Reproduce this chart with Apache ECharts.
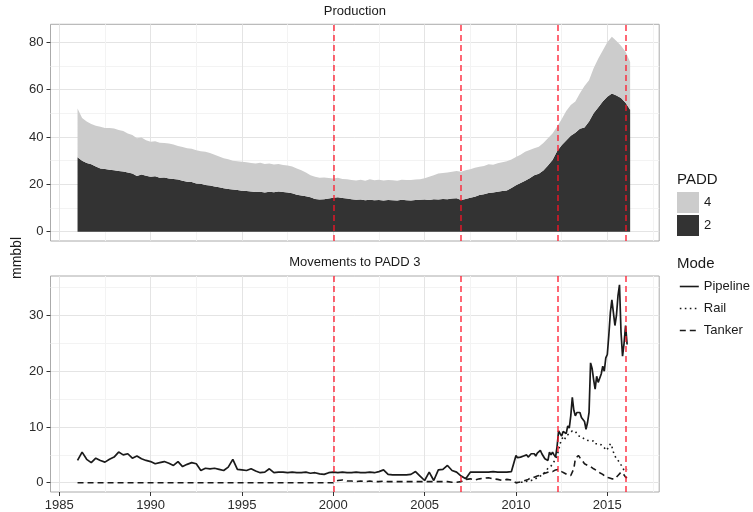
<!DOCTYPE html>
<html><head><meta charset="utf-8">
<script src="https://cdn.jsdelivr.net/npm/echarts@6/dist/echarts.min.js"></script>
<style>html,body{margin:0;padding:0;background:#fff}#c{width:753px;height:512px}</style>
</head><body><div id="c"></div>
<script>
// ---------- DATA ----------
// Production (mmbbl), quarterly from 1986 Q1
const prodStartYear = 1986;
const prodStepYears = 0.25;
const padd2 = [
 31.4,30.0,29.0,28.5, 27.5,26.7,26.5,26.2, 26.0,25.6,25.4,25.0, 24.6,23.5,24.2,23.6,
 23.2,23.4,22.8,22.9, 22.5,22.3,22.0,21.5, 21.1,21.0,20.4,20.2, 19.7,19.5,19.1,18.8,
 18.3,18.0,17.8,17.6, 17.3,17.2,17.0,16.8, 16.9,16.6,16.9,16.7, 17.0,16.8,16.6,16.2,
 15.6,15.3,15.0,14.5, 13.8,13.6,13.7,14.0, 14.3,14.5,14.2,14.0, 13.7,13.5,13.6,13.3,
 13.5,13.3,13.4,13.2, 13.4,13.3,13.2,13.5, 13.3,13.2,13.4,13.5, 13.6,13.4,13.7,13.6,
 13.8,13.7,14.0,14.1, 13.4,13.8,14.3,14.8, 15.5,15.8,16.3,16.6, 16.9,17.2,17.4,18.5,
 19.6,20.6,21.5,22.6, 23.8,24.5,25.8,28.0, 30.3,34.0,36.5,38.5, 40.5,41.8,43.5,44.0,
 46.5,50.0,52.5,55.0, 57.0,58.4,57.5,56.5, 54.5,51.5
];
const padd4 = [
 20.6,18.0,17.5,17.0, 17.3,17.6,17.3,17.6, 17.6,17.4,17.1,16.5, 16.2,16.0,15.6,15.0,
 14.8,14.8,14.8,14.6, 14.8,14.5,14.2,14.3, 14.1,14.0,14.0,13.8, 14.1,13.7,13.4,13.0,
 12.7,12.6,12.2,12.2, 12.2,12.1,12.0,12.0, 12.2,12.0,11.9,11.7, 11.6,11.4,11.4,11.3,
 11.1,10.7,10.0,9.3, 9.4,9.2,9.2,8.7, 8.2,8.3,8.1,8.1, 8.1,8.1,8.3,8.2,
 8.6,8.4,8.5,8.4, 8.4,8.4,8.3,8.4, 8.5,8.6,8.6,8.7, 9.0,9.8,10.1,11.0,
 11.0,11.3,11.3,11.5, 11.9,12.2,12.1,12.2, 11.9,12.0,12.2,11.7, 12.0,12.1,12.4,12.0,
 12.0,11.9,12.3,11.9, 11.4,11.4,11.7,11.5, 11.2,10.3,11.0,12.5, 13.0,13.2,15.0,17.5,
 17.5,19.0,20.5,21.5, 23.0,23.9,23.0,22.0, 21.5,20.2
];

// Movements to PADD 3 (mmbbl): quarterly 1986-2009, then monthly 2010-01 .. 2016-02
const moveQuarterStart = 1986, moveQuarterCount = 96;
const moveMonthStart = 2010;
const pipeline = [
 4.0,5.5,4.2,3.6, 4.4,4.0,3.7,4.2, 4.6,5.5,5.0,5.2, 4.4,4.8,4.3,4.0,
 3.8,3.4,3.6,3.8, 3.5,3.1,3.8,2.9, 3.3,3.6,3.4,2.2, 2.6,2.5,2.6,2.4,
 2.2,2.8,4.2,2.4, 2.3,2.2,2.5,2.1, 1.8,1.9,2.5,1.8, 1.9,1.9,1.8,1.9,
 1.8,1.8,1.9,1.7, 1.8,1.6,1.5,1.8, 1.9,1.8,1.9,1.8, 1.8,1.9,1.8,1.8,
 1.9,1.8,2.0,2.3, 1.5,1.4,1.4,1.4, 1.4,1.5,2.0,1.2, 0.4,1.9,0.4,2.3,
 2.4,3.1,2.2,1.9, 1.2,0.7,1.9,1.9, 1.9,1.9,1.9,2.0, 1.9,1.9,1.9,2.0,
 4.9,4.5,4.3,4.6,4.4,4.8,4.7,5.0,4.6,4.9,5.2,5.0,
 5.2,4.8,5.3,5.5,5.8,5.2,4.9,4.3,4.6,4.0,5.5,5.0,
 5.5,5.0,4.6,6.5,9.3,8.8,8.4,9.2,9.0,8.8,10.2,9.8,
 12.0,15.3,13.0,12.0,12.6,12.4,12.6,11.7,12.0,11.0,9.6,10.8,
 12.6,21.5,20.5,18.5,16.8,19.1,18.0,18.2,19.5,20.9,20.0,22.4,
 23.0,26.5,30.5,32.8,30.5,28.2,30.0,33.5,35.5,27.0,22.7,25.0,
 28.2,24.8
];
const tanker = [
 0,0,0,0, 0,0,0,0, 0,0,0,0, 0,0,0,0, 0,0,0,0, 0,0,0,0, 0,0,0,0,
 0,0,0,0, 0,0,0,0, 0,0,0,0, 0,0,0,0, 0,0,0,0, 0,0,0,0, 0,0,0,0,
 0.0,0.4,0.5,0.3, 0.3,0.2,0.3,0.2, 0.3,0.2,0.2,0.3, 0.2,0.2,0.2,0.2,
 0.2,0.2,0.2,0.2, 0.2,0.2,0.2,0.2, 0.2,0.2,0.1,0.1, 0.2,0.6,0.7,0.5,
 0.7,0.8,0.9,0.7, 0.6,0.4,0.6,0.5,
 0.0,0.0,0.1,0.1,0.2,0.3,0.4,0.5,0.6,0.7,0.9,1.0,
 1.0,1.1,1.2,1.3,1.4,1.5,1.6,1.7,1.8,1.9,2.0,2.0,
 2.0,2.1,2.3,2.5,2.4,2.2,2.0,1.9,1.7,1.5,1.4,1.3,
 1.3,1.5,2.5,4.3,4.6,4.9,4.5,4.3,3.8,3.4,3.2,3.1,
 3.1,2.9,2.7,2.5,2.4,2.2,2.0,1.8,1.6,1.5,1.2,1.0,
 1.0,0.9,0.8,0.7,0.7,0.7,0.9,1.3,1.6,1.9,1.8,1.4,
 1.0,0.9
];
// Rail: monthly from 2010-01
const rail = [
 0.0,0.0,0.1,0.1,0.1,0.2,0.2,0.2,0.3,0.3,0.4,0.5,
 0.6,0.7,0.9,1.0,1.2,1.4,1.6,1.9,2.2,2.6,2.8,3.0,
 3.4,3.7,4.2,5.0,5.8,7.0,7.8,8.2,7.8,8.4,8.2,8.8,
 9.0,9.3,9.6,9.2,8.8,8.4,8.7,8.3,8.0,7.8,8.1,7.6,
 7.8,7.5,7.2,7.5,7.0,6.8,7.0,7.3,6.8,7.0,6.3,5.8,
 5.8,6.3,7.0,6.5,5.5,4.8,4.3,4.0,3.7,3.2,2.8,2.2,
 2.1,2.4
];

const eventYears = [2000, 2007, 2012.3, 2016];
const xTickLabels = [1985, 1990, 1995, 2000, 2005, 2010, 2015];
const xMinorTicks = [1987.5, 1992.5, 1997.5, 2002.5, 2007.5, 2012.5, 2017.5];
const prodTicks = [0, 20, 40, 60, 80];
const prodMinorTicks = [10, 30, 50, 70];
const moveTicks = [0, 10, 20, 30];
const moveMinorTicks = [5, 15, 25, 35];

// ---------- BUILD ----------
const FONT = '"Liberation Sans", Arial, Helvetica, sans-serif';
const prodDates = padd2.map((_, i) => prodStartYear + i * prodStepYears);
const moveDates = pipeline.map((_, i) => i < moveQuarterCount
  ? moveQuarterStart + i * 0.25
  : moveMonthStart + (i - moveQuarterCount) / 12);
const railDates = rail.map((_, i) => moveMonthStart + i / 12);
const pairs = (xs, ys) => ys.map((y, i) => [xs[i], y]);
// value first so the library stacks the value dimension (not the year)
const vpairs = (xs, ys) => ys.map((y, i) => [y, xs[i]]);

const X_MIN = 1984.52, X_MAX = 2017.84;
const gridL = 50.5, gridW = 608.7;

function xAx(grid, major, labels) {
  return {
    type: 'value', gridIndex: grid, min: X_MIN, max: X_MAX,
    axisLine: { show: false, onZero: false },
    axisTick: { show: major && labels, length: 4, lineStyle: { color: '#333', width: 1 },
                customValues: major ? xTickLabels : xMinorTicks },
    axisLabel: { show: major && labels, customValues: major ? xTickLabels : xMinorTicks,
                 margin: 7, fontSize: 13, color: '#2b2b2b', fontFamily: FONT,
                 formatter: v => String(Math.round(v)) },
    splitLine: { show: true, lineStyle: { color: major ? '#e4e4e4' : '#f3f3f3', width: 1 } }
  };
}
function yAx(grid, min, max, ticks, major) {
  return {
    type: 'value', gridIndex: grid, min: min, max: max,
    axisLine: { show: false, onZero: false },
    axisTick: { show: major, length: 4, lineStyle: { color: '#333', width: 1 }, customValues: ticks },
    axisLabel: { show: major, customValues: ticks, margin: 7, fontSize: 13, color: '#2b2b2b', fontFamily: FONT },
    splitLine: { show: true, lineStyle: { color: major ? '#e4e4e4' : '#f3f3f3', width: 1 } }
  };
}

function vline() {
  return {
    silent: true, symbol: ['none', 'none'], label: { show: false },
    lineStyle: { color: 'rgba(255,20,40,0.8)', type: [6, 4], width: 1.6 },
    data: eventYears.map(x => ({ xAxis: x }))
  };
}

const lineCol = '#1a1a1a';
const option = {
  animation: false,
  backgroundColor: '#ffffff',
  title: [
    { text: 'Production', left: gridL + gridW / 2, top: 5, textAlign: 'center', padding: 0,
      textStyle: { fontSize: 13, fontWeight: 'normal', color: '#1a1a1a', fontFamily: FONT } },
    { text: 'Movements to PADD 3', left: gridL + gridW / 2, top: 256, textAlign: 'center', padding: 0,
      textStyle: { fontSize: 13, fontWeight: 'normal', color: '#1a1a1a', fontFamily: FONT } },
    { text: 'PADD', left: 677, top: 172, padding: 0,
      textStyle: { fontSize: 15, fontWeight: 'normal', color: '#1a1a1a', fontFamily: FONT } },
    { text: 'Mode', left: 677, top: 256, padding: 0,
      textStyle: { fontSize: 15, fontWeight: 'normal', color: '#1a1a1a', fontFamily: FONT } }
  ],
  graphic: [
    { type: 'text', x: 17, y: 258, rotation: Math.PI / 2,
      style: { text: 'mmbbl', fontSize: 14, fontFamily: FONT, fill: '#1a1a1a', align: 'center', verticalAlign: 'middle' } }
  ],
  legend: [
    { data: ['4', '2'], orient: 'vertical', left: 677, top: 192, padding: 0,
      itemWidth: 22, itemHeight: 21, itemGap: 2, icon: 'rect', selectedMode: false,
      textStyle: { fontSize: 13, color: '#1a1a1a', fontFamily: FONT } },
    { data: ['Pipeline', 'Rail', 'Tanker'], orient: 'vertical', left: 679, top: 280, padding: 0,
      itemWidth: 19, itemHeight: 14, itemGap: 9, selectedMode: false,
      itemStyle: { opacity: 0 }, lineStyle: { width: 1.6 },
      textStyle: { fontSize: 13, color: '#1a1a1a', fontFamily: FONT } }
  ],
  grid: [
    { left: gridL, top: 24.3, width: gridW, height: 216.7, show: true, backgroundColor: '#fff',
      borderColor: '#aaaaaa', borderWidth: 1 },
    { left: gridL, top: 276, width: gridW, height: 217.3, show: true, backgroundColor: '#fff',
      borderColor: '#aaaaaa', borderWidth: 1 }
  ],
  xAxis: [ xAx(0, true, false), xAx(1, true, true), xAx(0, false, false), xAx(1, false, false) ],
  yAxis: [
    yAx(0, -3.93, 87.6, prodTicks, true),
    yAx(1, -1.66, 37.08, moveTicks, true),
    yAx(0, -3.93, 87.6, prodMinorTicks, false),
    yAx(1, -1.66, 37.08, moveMinorTicks, false)
  ],
  series: [
    { name: '2', type: 'line', xAxisIndex: 0, yAxisIndex: 0, stack: 'prod', symbol: 'none',
      encode: { x: 1, y: 0 },
      color: '#333333', itemStyle: { color: '#333333' },
      lineStyle: { width: 0 }, areaStyle: { color: '#333333', opacity: 1 },
      data: vpairs(prodDates, padd2) },
    { name: '4', type: 'line', xAxisIndex: 0, yAxisIndex: 0, stack: 'prod', symbol: 'none',
      encode: { x: 1, y: 0 },
      color: '#cccccc', itemStyle: { color: '#cccccc' },
      lineStyle: { width: 0 }, areaStyle: { color: '#cccccc', opacity: 1 },
      data: vpairs(prodDates, padd4), markLine: vline() },
    { name: 'Pipeline', type: 'line', xAxisIndex: 1, yAxisIndex: 1, symbol: 'none',
      color: lineCol, lineStyle: { color: lineCol, width: 1.7 },
      data: pairs(moveDates, pipeline) },
    { name: 'Rail', type: 'line', xAxisIndex: 1, yAxisIndex: 1, symbol: 'none',
      color: lineCol, lineStyle: { color: lineCol, width: 1.6, type: [1.6, 3.4] },
      data: pairs(railDates, rail) },
    { name: 'Tanker', type: 'line', xAxisIndex: 1, yAxisIndex: 1, symbol: 'none',
      color: lineCol, lineStyle: { color: lineCol, width: 1.6, type: [6, 4] },
      data: pairs(moveDates, tanker), markLine: vline() }
  ]
};
echarts.init(document.getElementById('c'), null, { renderer: 'canvas' }).setOption(option);
</script></body></html>
